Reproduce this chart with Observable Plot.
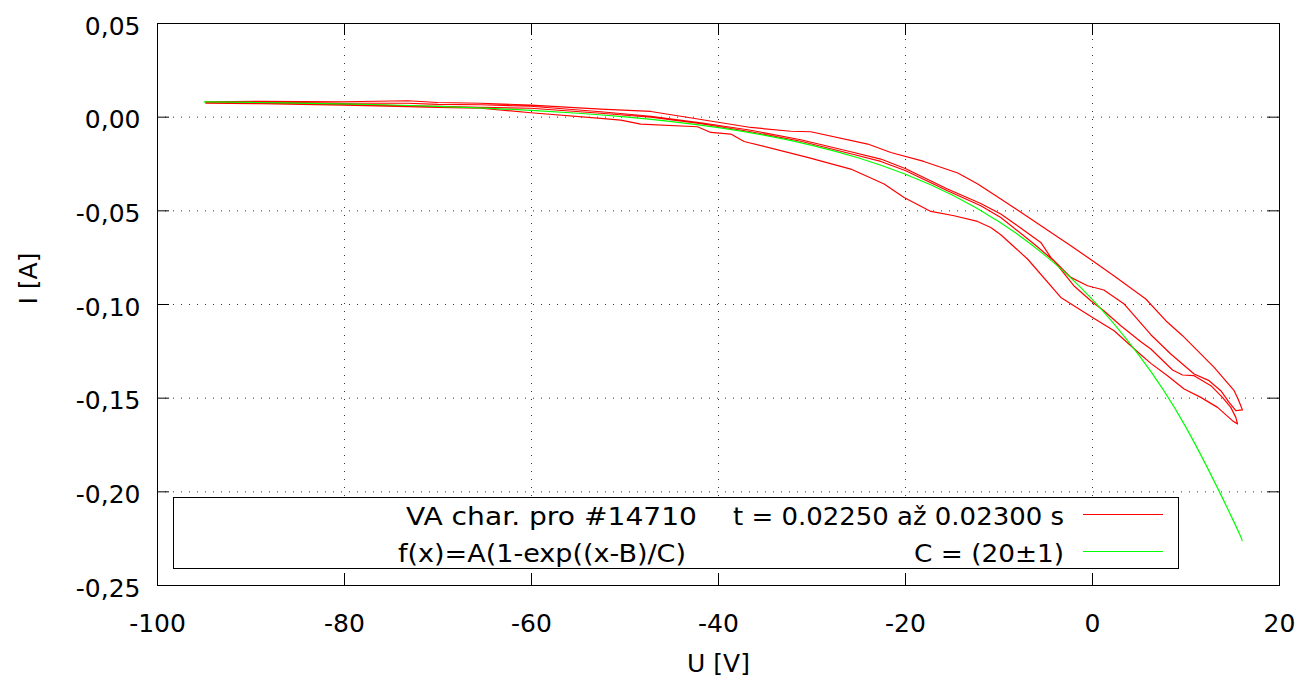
<!DOCTYPE html>
<html><head><meta charset="utf-8">
<script src="https://cdn.jsdelivr.net/npm/d3@7"></script>
<script src="https://cdn.jsdelivr.net/npm/@observablehq/plot@0.6"></script>
<style>html,body{margin:0;padding:0;background:#fff;}</style>
</head><body>
<div id="chart"></div>
<script>
// Tick values
const xTicks = [-100, -80, -60, -40, -20, 0, 20];
const yTicks = [0.05, 0, -0.05, -0.1, -0.15, -0.2, -0.25];

// Measured VA characteristic (one continuous trace, four sweeps)
const sweep1_U = [-94.83,-88.95,-80.07,-73.23,-70.02,-65.42,-60.07,-52.59,-47.24,-43.71,-36.54,-32.26,-30.13,-24.03,-21.57,-18.04,-14.41,-12.27,-9.81,-8.02,-2.32,0.0,2.28,5.70,7.84,9.63,13.01,15.15,15.57,16.04];
const sweep1_I = [0.00822,0.00848,0.00822,0.00875,0.00784,0.00742,0.00646,0.00432,0.00304,0.00021,-0.0055,-0.00752,-0.00779,-0.01435,-0.01884,-0.02364,-0.02983,-0.0357,-0.0437,-0.04957,-0.06862,-0.07663,-0.08463,-0.09706,-0.10864,-0.11665,-0.13356,-0.146,-0.15043,-0.1563];

const sweep2_U = [15.33,14.61,13.72,12.47,10.87,8.37,6.24,3.35,1.21,-0.535,-2.32,-4.46,-5.53,-8.02,-9.81,-11.95,-15.51,-19.97,-22.64,-25.85,-31.2,-36.54,-41.89,-47.24,-52.59,-60.07,-65.42,-70.02,-73.23,-80.07,-88.95,-94.83];
const sweep2_I = [-0.15667,-0.15224,-0.146,-0.14066,-0.13709,-0.12641,-0.11612,-0.09957,-0.09226,-0.08997,-0.08554,-0.07487,-0.06686,-0.05795,-0.05171,-0.04605,-0.03837,-0.02753,-0.02236,-0.01846,-0.01206,-0.00699,-0.00299,0.00048,0.00288,0.00582,0.00662,0.00688,0.00742,0.00742,0.00795,0.00795];

const sweep3_U = [-94.83,-88.95,-80.07,-73.23,-70.02,-65.42,-60.07,-52.59,-47.24,-41.89,-36.54,-31.2,-25.85,-22.64,-19.97,-15.51,-11.95,-9.81,-6.28,-4.14,-2.0,-0.18,1.21,3.03,5.17,6.24,8.56,9.63,10.87,12.66,13.9,14.79,15.33,15.51];
const sweep3_I = [0.00768,0.00742,0.00688,0.00608,0.00582,0.00528,0.00475,0.00208,-0.00005,-0.00352,-0.00779,-0.01286,-0.01953,-0.02364,-0.0286,-0.03927,-0.04728,-0.05352,-0.06756,-0.07663,-0.08997,-0.09797,-0.10331,-0.11131,-0.11985,-0.12375,-0.13495,-0.13762,-0.138,-0.14333,-0.14957,-0.15491,-0.16025,-0.16377];

const sweep4_U = [14.97,13.37,11.58,9.80,8.02,6.24,5.17,2.31,0.0,-3.39,-6.95,-9.81,-10.88,-12.30,-14.80,-17.29,-20.15,-22.29,-25.85,-30.48,-37.26,-38.68,-40.82,-42.25,-48.31,-50.45,-52.59,-60.07,-65.42,-70.02,-73.23,-80.07,-88.95,-94.83];
const sweep4_I = [-0.16201,-0.15491,-0.14957,-0.14509,-0.138,-0.13143,-0.12679,-0.11398,-0.10688,-0.09621,-0.07572,-0.06275,-0.05886,-0.05566,-0.05261,-0.05032,-0.04285,-0.0357,-0.0277,-0.0215,-0.01297,-0.00902,-0.00816,-0.00512,-0.00368,-0.00155,-0.00069,0.00235,0.00475,0.00518,0.00555,0.00635,0.00715,0.00742];

// Fit curve
const fit_U = [-95,-90,-85,-80,-75,-70,-65,-60,-55,-50,-45,-40,-35,-30,-25,-20,-15,-10,-5,0,5,10,15,16];
const fit_I = [0.00813,0.00786,0.00752,0.00707,0.0065,0.00577,0.00484,0.00364,0.0021,0.00014,-0.00238,-0.0056,-0.00973,-0.01502,-0.0218,-0.03047,-0.04157,-0.05581,-0.07404,-0.0974,-0.1273,-0.1656,-0.2147,-0.2261];

// Texts
const legendLabels = ["VA char. pro #14710", "t = 0.02250 až 0.02300 s", "f(x)=A(1-exp((x-B)/C)", "C = (20±1)"];
const xLabel = "U [V]";
const yLabel = "I [A]";

const rows = (us, is) => us.map((u, k) => ({u, i: is[k]}));
const measured = [
  ...rows(sweep1_U, sweep1_I), ...rows(sweep2_U, sweep2_I),
  ...rows(sweep3_U, sweep3_I), ...rows(sweep4_U, sweep4_I)
];
const fit = rows(fit_U, fit_I);

const W = 1304, H = 693, mL = 157, mR = 25, mT = 23, mB = 108;
const innerW = W - mL - mR, innerH = H - mT - mB;
const tick = 12;
const font = "'DejaVu Sans', sans-serif";
const fmtY = d => d.toFixed(2).replace(".", ",");

const svg = Plot.plot({
  width: W, height: H,
  marginLeft: mL, marginRight: mR, marginTop: mT, marginBottom: mB,
  style: {fontFamily: font, fontSize: "25px", background: "#fff", color: "#000"},
  x: {domain: [-100, 20]},
  y: {domain: [-0.25, 0.05]},
  marks: [
    Plot.ruleX(xTicks, {x: d => d, stroke: "#333", strokeDasharray: "1,7"}),
    Plot.ruleY(yTicks, {y: d => d, stroke: "#333", strokeDasharray: "1,7"}),
    Plot.ruleX(xTicks, {x: d => d, insetTop: innerH - tick, stroke: "#000"}),
    Plot.ruleX(xTicks, {x: d => d, insetBottom: innerH - tick, stroke: "#000"}),
    Plot.ruleY(yTicks, {y: d => d, insetRight: innerW - tick, stroke: "#000"}),
    Plot.ruleY(yTicks, {y: d => d, insetLeft: innerW - tick, stroke: "#000"}),
    Plot.line(measured, {x: "u", y: "i", stroke: "#ff0000", strokeWidth: 1.2}),
    Plot.line(fit, {x: "u", y: "i", stroke: "#00ff00", strokeWidth: 1.2, curve: "natural"}),
    Plot.frame({stroke: "#000"}),
    Plot.axisX(xTicks, {tickSize: 0, tickPadding: 29, tickFormat: d => String(d), fontSize: 25, label: null}),
    Plot.axisY(yTicks, {tickSize: 0, tickPadding: 17, tickFormat: fmtY, fontSize: 25, label: null, dy: 3}),
    Plot.text([xLabel], {frameAnchor: "bottom", dy: 86, fontSize: 25, text: d => d}),
    Plot.text([yLabel], {frameAnchor: "left", dx: -129, rotate: -90, fontSize: 25, text: d => d})
  ]
});

// Key box inside the plot area
const g = d3.select(svg).append("g").attr("font-family", font).attr("font-size", 25).attr("fill", "#000");
g.append("rect").attr("x", 173.5).attr("y", 497.5).attr("width", 1005).attr("height", 71)
  .attr("fill", "#fff").attr("stroke", "#000");
const keyRows = [
  {a: legendLabels[0], ax: 697, aw: 291, b: legendLabels[1], bw: 331, color: "#ff0000", base: 525},
  {a: legendLabels[2], ax: 686, aw: 288, b: legendLabels[3], bw: 150, color: "#00ff00", base: 562}
];
keyRows.forEach(r => {
  g.append("text").attr("x", r.ax).attr("y", r.base).attr("text-anchor", "end")
    .attr("textLength", r.aw).attr("lengthAdjust", "spacingAndGlyphs").text(r.a);
  g.append("text").attr("x", 1064).attr("y", r.base).attr("text-anchor", "end")
    .attr("textLength", r.bw).attr("lengthAdjust", "spacingAndGlyphs").text(r.b);
  g.append("line").attr("x1", 1083).attr("x2", 1163).attr("y1", r.base - 10.5).attr("y2", r.base - 10.5)
    .attr("stroke", r.color).attr("stroke-width", 1.2);
});

document.getElementById("chart").append(svg);
</script>
</body></html>
